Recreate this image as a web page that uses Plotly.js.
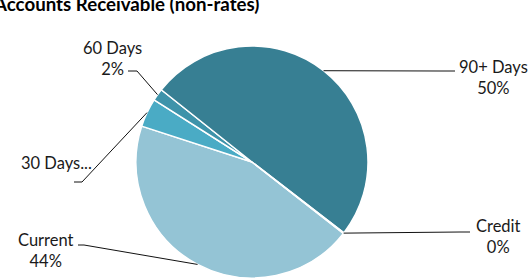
<!DOCTYPE html>
<html>
<head>
<meta charset="utf-8">
<script src="https://cdn.plot.ly/plotly-3.0.1.min.js"></script>
<style>html,body{margin:0;padding:0;background:#fff;}#chart{width:529px;height:280px;}</style>
</head>
<body>
<div id="chart"></div>
<script>
const categories = ["Current", "30 Days", "60 Days", "90+ Days", "Credit"];
const values = [44.4, 4.0, 1.7, 49.7, 0.1];
const colors = ["#94c4d5", "#4aabc5", "#3e93aa", "#377f93", "#2c6a7c"];
const truncated = [false, true, false, false, false];
const chartTitle = "Accounts Receivable (non-rates)";

const W = 529, H = 280;
const cx = 252, cy = 162, R = 116;
const startAngle = 128;

// label layout (pixel positions of text centre and leader elbow/end)
const labelPos = [
  {tx: 46, ty: 250, elbow: [84, 245], end: [78, 245]},
  {tx: 56, ty: 163, elbow: [82, 182], end: [74, 182]},
  {tx: 112, ty: 58, elbow: [137, 71], end: [128, 71]},
  {tx: 493, ty: 77, elbow: [440, 71], end: [455, 71]},
  {tx: 498, ty: 236, elbow: [460, 232], end: [470, 232]}
];

const total = values.reduce((a, b) => a + b, 0);
const px = x => x / W;
const py = y => 1 - y / H;

const annotations = [];
const shapes = [];
let ang = startAngle;
values.forEach((v, i) => {
  const span = v / total * 360;
  const mid = (ang + span / 2) * Math.PI / 180;
  ang += span;
  const ax = cx + R * Math.sin(mid), ay = cy - R * Math.cos(mid);
  const lp = labelPos[i];
  const pct = Math.round(v / total * 100) + "%";
  const text = truncated[i] ? categories[i] + "..." : categories[i] + "<br>" + pct;
  annotations.push({
    x: px(lp.tx), y: py(lp.ty), xref: "paper", yref: "paper",
    text: text, showarrow: false, xanchor: "center", yanchor: "middle",
    font: {family: "Lato, 'Open Sans', sans-serif", size: 16.5, color: "#1a1a1a"}
  });
  shapes.push({
    type: "path", xref: "paper", yref: "paper",
    path: `M ${px(ax)} ${py(ay)} L ${px(lp.elbow[0])} ${py(lp.elbow[1])} L ${px(lp.end[0])} ${py(lp.end[1])}`,
    line: {color: "#111", width: 1}
  });
});

annotations.push({
  x: px(-9), y: py(17), xref: "paper", yref: "paper", xanchor: "left", yanchor: "bottom",
  text: "<b>" + chartTitle + "</b>", showarrow: false,
  font: {family: "Lato, 'Open Sans', sans-serif", size: 18.7, color: "#000"}
});

const trace = {
  type: "pie",
  labels: categories,
  values: values,
  sort: false,
  direction: "clockwise",
  rotation: startAngle,
  textinfo: "none",
  hoverinfo: "label+percent",
  marker: {colors: colors, line: {color: "#ffffff", width: 1.5}},
  domain: {x: [(cx - R) / W, (cx + R) / W], y: [(H - cy - R) / H, (H - cy + R) / H]},
  showlegend: false
};

Plotly.newPlot("chart", [trace], {
  width: W, height: H,
  margin: {l: 0, r: 0, t: 0, b: 0},
  paper_bgcolor: "#fff",
  showlegend: false,
  annotations: annotations,
  shapes: shapes
}, {displayModeBar: false, staticPlot: true});
</script>
</body>
</html>
